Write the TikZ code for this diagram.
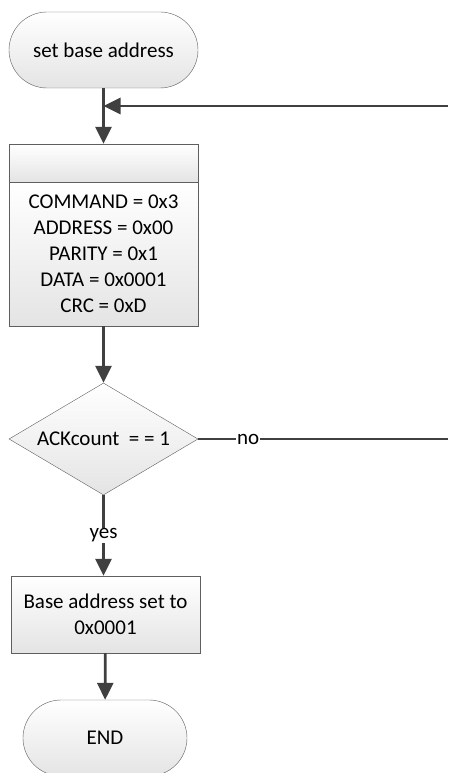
\documentclass[tikz,border=0pt]{standalone}
\usepackage{fontspec}
\setmainfont{Carlito}
\usetikzlibrary{arrows.meta,shapes.geometric,shapes.misc,positioning}
\definecolor{fcline}{RGB}{64,64,64}
\definecolor{fcborder}{RGB}{95,95,95}
\definecolor{fcshade}{RGB}{228,228,228}
\tikzstyle{arrow} = [line width=2.8pt, color=fcline, -{Triangle[length=17pt,width=16pt]}]
\tikzstyle{flowline} = [line width=2.8pt, color=fcline]
\tikzstyle{terminal} = [rounded rectangle, draw=fcborder, thin, top color=white, bottom color=fcshade, minimum height=76pt, inner sep=0pt, text centered]
\tikzstyle{process} = [rectangle, draw=fcborder, thin, top color=white, bottom color=fcshade, minimum width=189pt, inner sep=0pt, align=center]
\tikzstyle{decision} = [diamond, draw=fcborder, thin, top color=white, bottom color=fcshade, minimum width=189pt, minimum height=112pt, aspect=1.7, inner sep=0pt]
\tikzstyle{edgelabel} = [fill=white, text=black, inner sep=1pt]

\begin{document}
\begin{tikzpicture}[x=1pt, y=-1pt, font=\fontsize{21}{26}\selectfont]
\useasboundingbox (0,0) rectangle (448,773);
% Steps
\node[terminal, minimum width=189pt] (start) at (103.5,50) {set base address};
\node[process, minimum height=38pt] (header) at (103.5,163) {};
\node[process, minimum height=144pt] (setup) at (103.5,254) {COMMAND = 0x3\\ADDRESS = 0x00\\PARITY = 0x1\\DATA = 0x0001\\CRC = 0xD};
\node[decision] (check) at (103.5,439) {ACKcount\ \ = = 1};
\node[process, minimum height=77pt] (done) at (105.5,614.5) {Base address set to\\0x0001};
\node[terminal, minimum width=164pt] (finish) at (105,738) {END};

% Loop ends
\coordinate (loopin) at (448,106);
\coordinate (loopout) at (448,439);
\coordinate (join) at (start.south |- loopin);

% Arrows
\draw[arrow] (start) -- (header);
\draw[arrow] (loopin) -- (join);
\draw[arrow] (setup) -- (check);
\draw[flowline] (check.east) -- node[edgelabel, pos=0.2] {no} (loopout);
\draw[arrow] (check.south) -- node[edgelabel, pos=0.5] {yes} (done.north -| check.south);
\draw[arrow] (done) -- (finish);
\end{tikzpicture}
\end{document}
